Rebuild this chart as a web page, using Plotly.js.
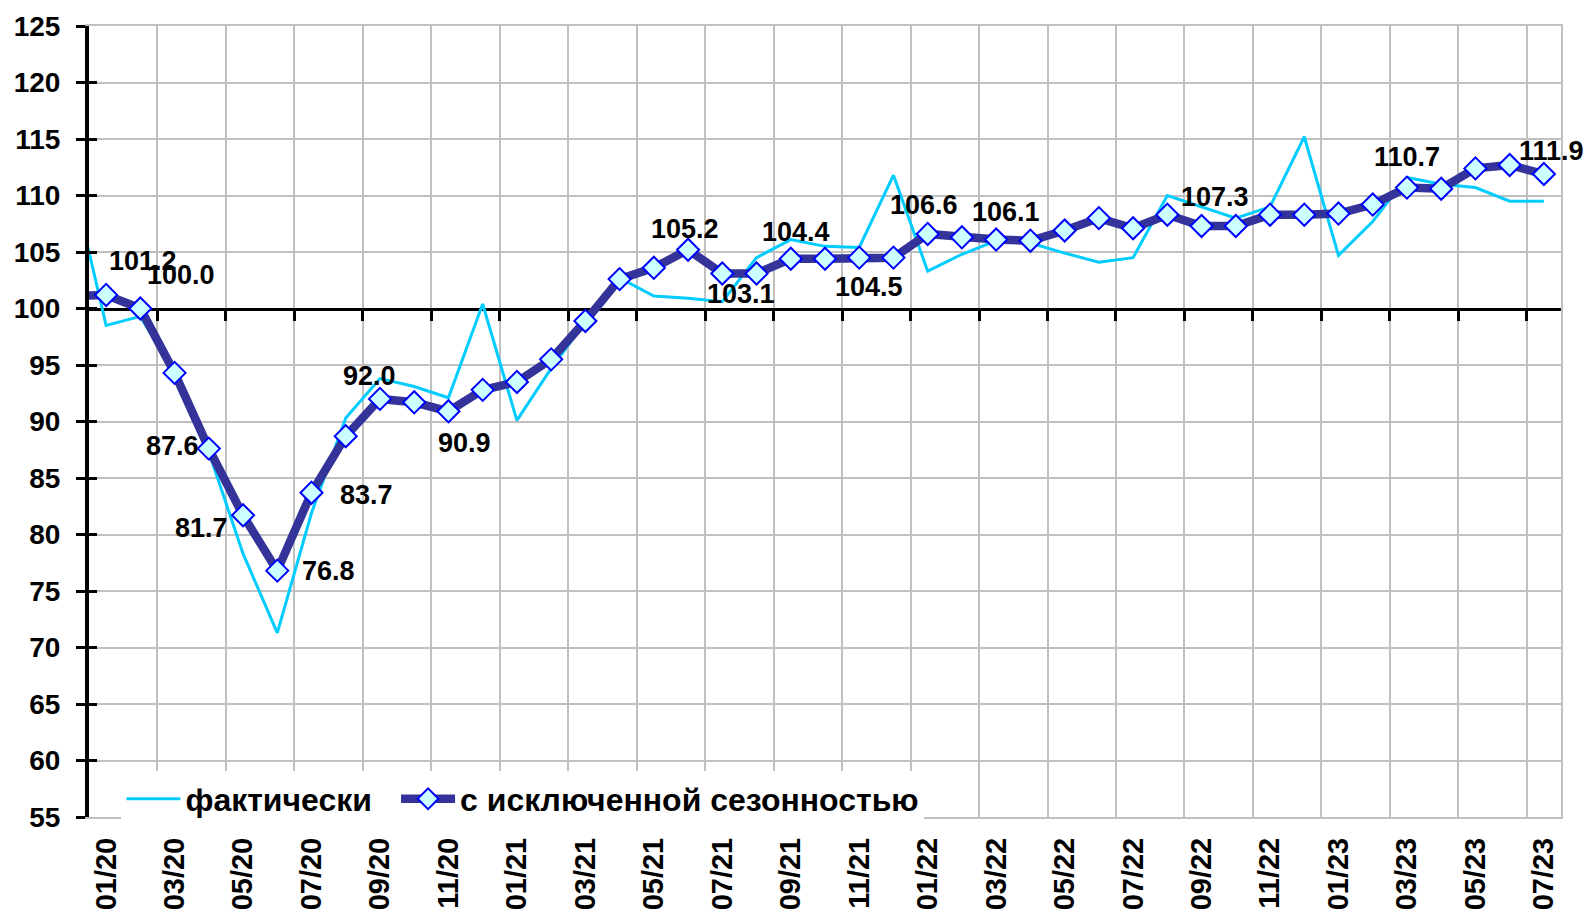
<!DOCTYPE html>
<html>
<head>
<meta charset="utf-8">
<script src="https://cdn.plot.ly/plotly-3.0.1.min.js"></script>
<style>
  html, body { margin: 0; padding: 0; background: #ffffff; }
  #chart { width: 1592px; height: 911px; }
</style>
</head>
<body>
<div id="chart"></div>
<script>
// ---- DATA ----
const months = [
  '12/19',
  '01/20','02/20','03/20','04/20','05/20','06/20','07/20','08/20','09/20','10/20','11/20','12/20',
  '01/21','02/21','03/21','04/21','05/21','06/21','07/21','08/21','09/21','10/21','11/21','12/21',
  '01/22','02/22','03/22','04/22','05/22','06/22','07/22','08/22','09/22','10/22','11/22','12/22',
  '01/23','02/23','03/23','04/23','05/23','06/23','07/23'
];

const actual = [
  111.5,
  98.5, 99.3, 94.3, 87.3, 78.3, 71.3, 81.9, 90.3, 93.8, 93.1, 92.1, 100.4,
  90.1, 94.7, 98.8, 102.7, 101.1, 100.9, 100.6, 104.5, 106.1, 105.5, 105.4, 111.8,
  103.3, 104.8, 106.0, 105.8, 104.9, 104.1, 104.5, 110.0, 109.0, 108.0, 109.0, 115.2,
  104.7, 107.7, 111.6, 111.0, 110.7, 109.5, 109.5
];

const seasonallyAdjusted = [
  101.1,
  101.2, 100.0, 94.3, 87.6, 81.7, 76.8, 83.7, 88.7, 92.0, 91.7, 90.9, 92.8,
  93.5, 95.5, 98.9, 102.6, 103.6, 105.2, 103.1, 103.1, 104.4, 104.4, 104.5, 104.5,
  106.6, 106.3, 106.1, 106.0, 106.9, 108.0, 107.1, 108.3, 107.3, 107.3, 108.3, 108.3,
  108.4, 109.2, 110.7, 110.6, 112.4, 112.7, 111.9
];

const seriesNames = ['фактически', 'с исключенной сезонностью'];

// months whose seasonally adjusted value carries a data label
const labelledMonths = ['01/20','02/20','04/20','05/20','06/20','07/20','09/20','11/20',
  '06/21','07/21','09/21','11/21','01/22','03/22','09/22','03/23','07/23'];

// ---- label placement (pixel offsets, styling only) ----
const labelOffsets = {
  '01/20':[37,-34], '02/20':[41,-34], '04/20':[-36,-3], '05/20':[-42,13],
  '06/20':[51,0], '07/20':[55,2], '09/20':[-10,-23], '11/20':[16,32],
  '06/21':[-3,-21], '07/21':[19,21], '09/21':[5,-27], '11/21':[10,29],
  '01/22':[-4,-29], '03/22':[10,-28], '09/22':[13,-29], '03/23':[0,-31], '07/23':[8,-23]
};

// ---- derived positions ----
const xs = months.map((m, i) => i - 1);           // 01/20 -> 0
const xMin = -0.5, xMax = xs[xs.length - 1] + 0.5;
const tickVals = xs.filter(v => v >= 0 && v % 2 === 0);
const tickText = tickVals.map(v => months[v + 1]);
const boundaryVals = [];
for (let v = 1.5; v < xMax; v += 2) boundaryVals.push(v);
const gridVals = boundaryVals.concat([xMax]);

const FONT = 'Liberation Sans, Arial, sans-serif';
const GRID = '#c0c0c0';

const traces = [
  {
    x: xs, y: actual, name: seriesNames[0], type: 'scatter', mode: 'lines',
    line: { color: '#00ccff', width: 3 }, hoverinfo: 'skip', legend: 'legend'
  },
  {
    x: xs, y: seasonallyAdjusted, name: seriesNames[1], type: 'scatter', mode: 'lines+markers',
    line: { color: '#333399', width: 8.5 },
    marker: { symbol: 'diamond', size: 17, color: '#ccffff', line: { color: '#0000ff', width: 2 } },
    hoverinfo: 'skip', legend: 'legend2'
  },
  // empty helper traces so the overlay axes are drawn
  { x: [], y: [], xaxis: 'x2', yaxis: 'y', showlegend: false, hoverinfo: 'skip', type: 'scatter' },
  { x: [], y: [], xaxis: 'x3', yaxis: 'y', showlegend: false, hoverinfo: 'skip', type: 'scatter' },
  { x: [], y: [], xaxis: 'x', yaxis: 'y2', showlegend: false, hoverinfo: 'skip', type: 'scatter' },
  { x: [], y: [], xaxis: 'x', yaxis: 'y3', showlegend: false, hoverinfo: 'skip', type: 'scatter' }
];

const annotations = labelledMonths.map(m => {
  const i = months.indexOf(m);
  const off = labelOffsets[m];
  return {
    x: xs[i], y: seasonallyAdjusted[i], xref: 'x', yref: 'y',
    text: seasonallyAdjusted[i].toFixed(1), showarrow: false,
    xshift: off[0], yshift: -off[1],
    font: { family: FONT, size: 27, color: '#000000', weight: 'bold' }
  };
});

const yMin = 55, yMax = 125;
const legendFont = { family: FONT, size: 32, color: '#000000', weight: 'bold' };

const layout = {
  width: 1592, height: 911,
  margin: { l: 89, r: 31, t: 26, b: 94, pad: 0 },
  paper_bgcolor: '#ffffff', plot_bgcolor: '#ffffff',
  font: { family: FONT, size: 28, color: '#000000', weight: 'bold' },
  showlegend: true,
  legend: {
    orientation: 'h', x: 0.022, xanchor: 'left', y: -0.012, yanchor: 'bottom',
    bgcolor: '#ffffff', borderwidth: 0, itemwidth: 54, font: legendFont,
    entrywidth: 215, entrywidthmode: 'pixels'
  },
  legend2: {
    orientation: 'h', x: 0.2086, xanchor: 'left', y: -0.012, yanchor: 'bottom',
    bgcolor: '#ffffff', borderwidth: 0, itemwidth: 54, font: legendFont
  },
  xaxis: {
    range: [xMin, xMax], tickmode: 'array', tickvals: gridVals, showticklabels: false,
    ticks: '', showgrid: true, gridcolor: GRID, gridwidth: 2, zeroline: false,
    showline: true, linecolor: GRID, linewidth: 2, mirror: true, fixedrange: true
  },
  xaxis2: {
    overlaying: 'x', anchor: 'y', side: 'bottom', range: [xMin, xMax],
    tickmode: 'array', tickvals: tickVals, ticktext: tickText, tickangle: -90,
    ticks: '', showgrid: false, showline: false, zeroline: false, ticklabelstandoff: 14,
    tickfont: { family: FONT, size: 29, color: '#000000', weight: 'bold' }
  },
  xaxis3: {
    overlaying: 'x', anchor: 'free', position: (100 - yMin) / (yMax - yMin), side: 'bottom',
    range: [xMin, xMax], tickmode: 'array', tickvals: boundaryVals,
    ticks: 'outside', ticklen: 10, tickwidth: 3, tickcolor: '#000000',
    showticklabels: false, showgrid: false, zeroline: false,
    showline: true, linecolor: '#000000', linewidth: 3, layer: 'below traces'
  },
  yaxis: {
    range: [yMin, yMax], tickmode: 'linear', tick0: yMin, dtick: 5,
    ticks: 'outside', ticklen: 9, tickwidth: 3, tickcolor: '#000000',
    showline: true, linecolor: '#000000', linewidth: 4,
    showgrid: true, gridcolor: GRID, gridwidth: 2, zeroline: false,
    ticklabelstandoff: 10,
    tickfont: { family: FONT, size: 28, color: '#000000', weight: 'bold' }
  },
  yaxis2: {
    overlaying: 'y', side: 'left', range: [yMin, yMax], tickmode: 'linear', tick0: yMin, dtick: 5,
    ticks: 'inside', ticklen: 8, tickwidth: 3, tickcolor: '#000000',
    showticklabels: false, showgrid: false, showline: false, zeroline: false
  },
  yaxis3: {
    overlaying: 'y', side: 'right', range: [yMin, yMax],
    ticks: '', showticklabels: false, showgrid: false, zeroline: false,
    showline: true, linecolor: GRID, linewidth: 2
  },
  annotations: annotations
};

Plotly.newPlot('chart', traces, layout, { staticPlot: true, displayModeBar: false });
</script>
</body>
</html>
